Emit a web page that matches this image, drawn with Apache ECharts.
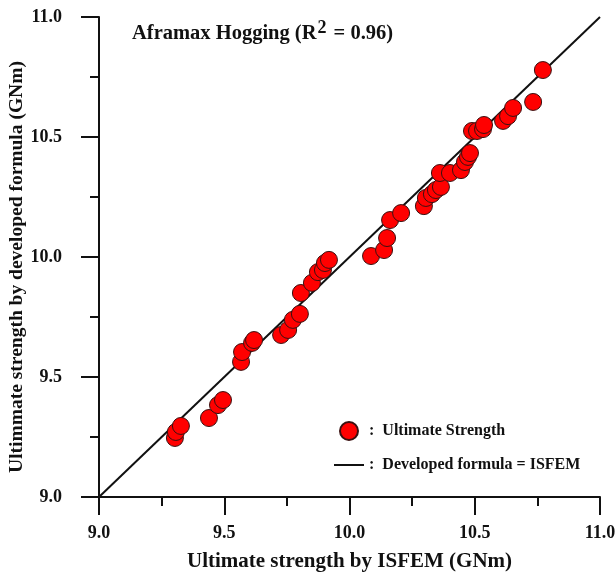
<!DOCTYPE html>
<html>
<head>
<meta charset="utf-8">
<script src="https://cdn.jsdelivr.net/npm/echarts@6/dist/echarts.min.js"></script>
<style>
  html, body { margin: 0; padding: 0; background: #fff; }
  #main { width: 616px; height: 572px; }
</style>
</head>
<body>
<div id="main"></div>
<script>
// ISFEM result (x) vs developed formula (y), GNm
var isfem = [9.303, 9.307, 9.327, 9.439, 9.475, 9.495, 9.567, 9.571, 9.611, 9.619,
  9.727, 9.755, 9.774, 9.802, 9.806, 9.850, 9.874, 9.894, 9.902, 9.918,
  10.086, 10.138, 10.150, 10.162, 10.206, 10.297, 10.305, 10.329, 10.345, 10.365,
  10.361, 10.401, 10.445, 10.461, 10.473, 10.481, 10.489, 10.509, 10.533, 10.537,
  10.613, 10.633, 10.653, 10.733, 10.772];
var formula = [9.246, 9.271, 9.296, 9.329, 9.383, 9.404, 9.563, 9.604, 9.642, 9.654,
  9.675, 9.696, 9.738, 9.763, 9.850, 9.892, 9.937, 9.946, 9.975, 9.988,
  10.004, 10.029, 10.079, 10.154, 10.183, 10.212, 10.246, 10.262, 10.279, 10.292,
  10.350, 10.350, 10.362, 10.396, 10.417, 10.433, 10.525, 10.525, 10.533, 10.550,
  10.567, 10.587, 10.621, 10.646, 10.779];
var equalLine = [[9.0, 9.0], [11.0, 11.0]];
var tickLabels = ['9.0', '9.5', '10.0', '10.5', '11.0'];

var pts = [];
for (var i = 0; i < isfem.length; i++) {
  pts.push([isfem[i], formula[i]]);
}

var serif = '"Liberation Serif", "DejaVu Serif", serif';

var chartDom = document.getElementById('main');
var myChart = echarts.init(chartDom);
var option;

function axisCommon() {
  return {
    type: 'value',
    min: 9.0,
    max: 11.0,
    interval: 0.5,
    nameLocation: 'middle',
    nameMoveOverlap: false,
    nameTextStyle: { fontFamily: serif, fontWeight: 'bold', fontSize: 21, color: '#111' },
    axisLine: { show: true, onZero: false, lineStyle: { color: '#111', width: 2 } },
    axisTick: { show: true, inside: false, length: 18, lineStyle: { color: '#111', width: 2 } },
    minorTick: { show: true, splitNumber: 2, length: 9, lineStyle: { color: '#111', width: 2 } },
    splitLine: { show: false },
    axisLabel: {
      fontFamily: serif, fontWeight: 'bold', fontSize: 18, color: '#111',
      formatter: function (v) { return tickLabels[Math.round((v - 9) / 0.5)]; }
    }
  };
}

var xAx = axisCommon();
xAx.name = 'Ultimate strength by ISFEM (GNm)';
xAx.nameGap = 54;
xAx.axisLabel.margin = 27;

var yAx = axisCommon();
yAx.name = 'Ultimmate strength by developed formula (GNm)';
yAx.nameGap = 72;
yAx.nameTextStyle.fontSize = 19.5;
yAx.nameTextStyle.padding = [0, 20, 0, 0];
yAx.axisLabel.margin = 37;

option = {
  animation: false,
  backgroundColor: '#fff',
  grid: { left: 99, right: 16, top: 17, bottom: 75, containLabel: false, outerBoundsMode: 'none' },
  title: {
    left: 127,
    top: 14,
    text: '{a|Aframax Hogging (R}{s|2}{a| = 0.96)}',
    textStyle: {
      rich: {
        a: { fontFamily: serif, fontWeight: 'bold', fontSize: 20.5, color: '#111', lineHeight: 30 },
        s: { fontFamily: serif, fontWeight: 'bold', fontSize: 18, color: '#111', lineHeight: 30, padding: [0, 2, 12, 1] }
      }
    }
  },
  legend: {
    orient: 'vertical',
    left: 328,
    top: 416,
    itemWidth: 30,
    itemHeight: 18,
    itemGap: 16,
    formatter: function (n) { return ':  ' + n; },
    textStyle: { fontFamily: serif, fontWeight: 'bold', fontSize: 16, color: '#111' },
    data: [
      { name: 'Ultimate Strength', icon: 'circle' },
      { name: 'Developed formula = ISFEM', itemStyle: { color: 'rgba(0,0,0,0)', borderWidth: 0, opacity: 0 } }
    ]
  },
  xAxis: xAx,
  yAxis: yAx,
  series: [
    {
      name: 'Developed formula = ISFEM',
      type: 'line',
      data: equalLine,
      symbol: 'none',
      lineStyle: { color: '#111', width: 2 },
      itemStyle: { color: '#111' },
      z: 1
    },
    {
      name: 'Ultimate Strength',
      type: 'scatter',
      data: pts,
      symbol: 'circle',
      symbolSize: 17,
      itemStyle: { color: '#ff0000', borderColor: '#3a1010', borderWidth: 1, opacity: 1 },
      z: 2
    }
  ]
};
option && myChart.setOption(option);
</script>
</body>
</html>
